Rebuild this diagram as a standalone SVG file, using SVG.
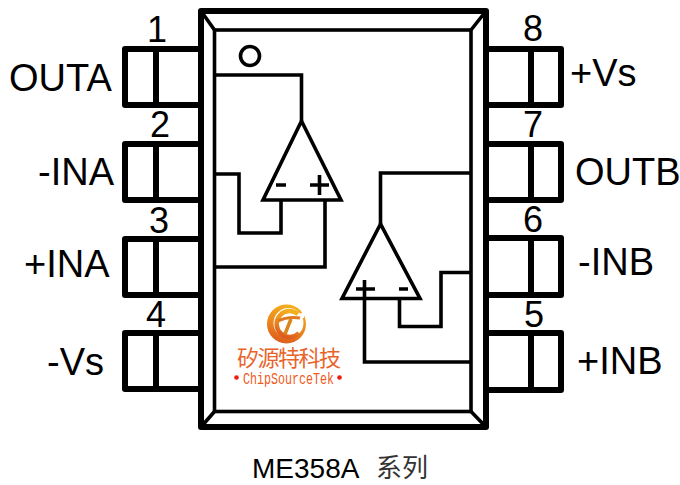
<svg xmlns="http://www.w3.org/2000/svg" width="680" height="485" viewBox="0 0 680 485">
<defs>
<linearGradient id="ring" x1="0.6" y1="0" x2="0.3" y2="1"><stop offset="0" stop-color="#f4b01e"/><stop offset="0.5" stop-color="#ec8a1e"/><stop offset="1" stop-color="#dc5a1e"/></linearGradient>
</defs>
<style>
.pin{fill:none;stroke:#000;stroke-width:6;stroke-linejoin:round}
.pkg{fill:none;stroke:#000;stroke-width:6;stroke-linejoin:round}
.in{fill:none;stroke:#000;stroke-width:3.6;stroke-linejoin:miter}
text{font-family:"Liberation Sans",Arial,sans-serif;fill:#000}
.lb{font-size:38px}
.num{font-size:36px;text-anchor:middle}
</style>
<rect width="680" height="485" fill="#fff"/>
<g id="pin1"><path class="pin" d="M201 49H125V105H201M156 49V105"/><text class="num" x="157" y="42">1</text><text class="lb" x="9" y="91">OUTA</text></g>
<g id="pin2"><path class="pin" d="M201 144H125V200H201M156 144V200"/><text class="num" x="160" y="137">2</text><text class="lb" x="38" y="185">-INA</text></g>
<g id="pin3"><path class="pin" d="M201 239H125V295H201M156 239V295"/><text class="num" x="159" y="233">3</text><text class="lb" x="24" y="277">+INA</text></g>
<g id="pin4"><path class="pin" d="M201 333H125V389H201M156 333V389"/><text class="num" x="156" y="327">4</text><text class="lb" x="47" y="375">-Vs</text></g>
<g id="pin8"><path class="pin" d="M486 49H561V105H486M531 49V105"/><text class="num" x="533" y="41">8</text><text class="lb" x="570" y="86">+Vs</text></g>
<g id="pin7"><path class="pin" d="M486 144H561V200H486M531 144V200"/><text class="num" x="533" y="137">7</text><text class="lb" x="575" y="185">OUTB</text></g>
<g id="pin6"><path class="pin" d="M486 238H561V295H486M531 238V295"/><text class="num" x="533" y="232">6</text><text class="lb" x="578" y="275">-INB</text></g>
<g id="pin5"><path class="pin" d="M486 333H561V390H486M531 333V390"/><text class="num" x="534" y="327">5</text><text class="lb" x="577" y="374">+INB</text></g>
<g id="package"><rect class="pkg" x="201" y="11" width="285" height="416"/><rect class="in" x="214.500" y="30" width="256.500" height="381.500"/><path class="in" d="M201 11L214.500 30M486 11L471 30M201 427L214.500 411.500M486 427L471 411.500"/></g>
<g id="opamp-a"><path class="in" d="M301.500 121L263 200H341Z"/><path class="in" d="M276 185H286M310 185H329M319.500 175V195"/></g>
<g id="opamp-b"><path class="in" d="M380.500 224L342 298.500H420Z"/><path class="in" d="M356 289H375M399 289H408"/></g>
<g id="connectors">
<circle class="in" cx="250" cy="56" r="9.500"/>
<path class="in" d="M216 75H301.500V121"/>
<path class="in" d="M216 174H239V233H281V200"/>
<path class="in" d="M216 267H325V200"/>
<path class="in" d="M471 173H380.500V224"/>
<path class="in" d="M399.500 298.500V326.500H441V272.500H471"/>
<path class="in" d="M364.500 280V362H471"/>
</g>
<g id="logo">
<circle cx="286.500" cy="324" r="19.500" fill="url(#ring)"/>
<circle cx="288.500" cy="323" r="15" fill="#fff"/>
<path d="M298 314A13 13 0 1 0 299 333" fill="none" stroke="url(#ring)" stroke-width="4.500"/>
<path d="M304 311L295 318L304 318Z" fill="#fff"/>
<path d="M278 321Q288 316 300 318" fill="none" stroke="#e07a1e" stroke-width="3"/>
<path d="M291 319L285 334" fill="none" stroke="#d9861e" stroke-width="3.500"/>
<text x="237" y="366" font-size="22" textLength="104" style="font-family:'Noto Sans CJK SC',sans-serif;fill:#e8632a">矽源特科技</text>
<circle cx="236.500" cy="377.500" r="2.300" fill="#f01c10"/><circle cx="339.500" cy="377.500" r="2.300" fill="#f01c10"/>
<text transform="translate(243 383.500) scale(0.73 1)" font-size="16" style="font-family:'Liberation Mono',monospace;fill:#ef5a1c">ChipSourceTek</text>
</g>
<g id="caption"><text x="252" y="478" font-size="28">ME358A</text>
<text x="376" y="477" font-size="26" style="font-family:'Noto Sans CJK SC',sans-serif;fill:#333">系列</text></g>
</svg>
